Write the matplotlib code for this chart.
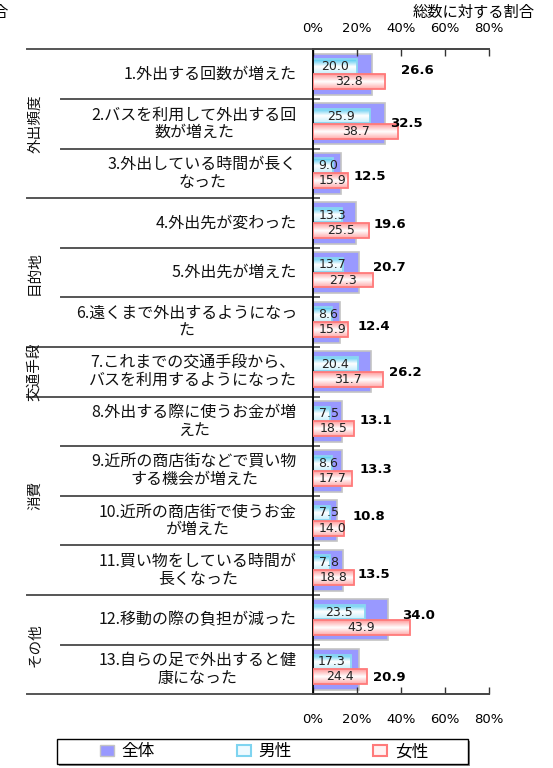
import numpy as np
import matplotlib
matplotlib.use("Agg")
import matplotlib.pyplot as plt
from matplotlib.patches import Patch, Rectangle
from matplotlib.lines import Line2D
from matplotlib.colors import LinearSegmentedColormap
from matplotlib.transforms import blended_transform_factory

plt.rcParams['font.family'] = ['Noto Sans CJK JP', 'DejaVu Sans']

# ---------------- data ----------------
categories = [
    "1.外出する回数が増えた",
    "2.バスを利用して外出する回\n数が増えた",
    "3.外出している時間が長く\nなった",
    "4.外出先が変わった",
    "5.外出先が増えた",
    "6.遠くまで外出するようになっ\nた",
    "7.これまでの交通手段から、\nバスを利用するようになった",
    "8.外出する際に使うお金が増\nえた",
    "9.近所の商店街などで買い物\nする機会が増えた",
    "10.近所の商店街で使うお金\nが増えた",
    "11.買い物をしている時間が\n長くなった",
    "12.移動の際の負担が減った",
    "13.自らの足で外出すると健\n康になった",
]
groups = ["外出頻度", "目的地", "交通手段", "消費", "その他"]
group_sizes = [3, 3, 1, 4, 2]
total = [26.6, 32.5, 12.5, 19.6, 20.7, 12.4, 26.2, 13.1, 13.3, 10.8, 13.5, 34.0, 20.9]
male = [20.0, 25.9, 9.0, 13.3, 13.7, 8.6, 20.4, 7.5, 8.6, 7.5, 7.8, 23.5, 17.3]
female = [32.8, 38.7, 15.9, 25.5, 27.3, 15.9, 31.7, 18.5, 17.7, 14.0, 18.8, 43.9, 24.4]
series_names = ["全体", "男性", "女性"]
xticks = [0, 20, 40, 60, 80]
xtick_labels = ["0%", "20%", "40%", "60%", "80%"]
axis_title = "総数に対する割合"

# label nudges for the "total" labels (pixels)
total_label_gap = [29.5, 5.5, 13.5, 17.2, 14.2, 17, 18.4, 18.2, 17.7, 15.5, 14.6, 13.9, 14.3]
total_label_dy = [-4, 0, 3.4, 1.4, -5, 4, 1, -0.6, -1.6, -3.8, 3.9, -4.7, 8]

# ---------------- layout ----------------
W, H = 553, 768
fig = plt.figure(figsize=(W / 100, H / 100), dpi=100)


def fx(px):
    return px / W


def fy(py):
    return 1 - py / H


AX_L, AX_R, AX_T, AX_B = 313, 489, 49.3, 694.3
ax = fig.add_axes([fx(AX_L), fy(AX_B), fx(AX_R) - fx(AX_L), fy(AX_T) - fy(AX_B)])
n = len(categories)
rows = np.arange(n)
px_per_unit = (AX_R - AX_L) / 80.0

num_font = dict(family='DejaVu Sans')

# total bars
ax.barh(rows + 0.5, total, height=0.83, color='#9999ff', edgecolor='#c4c4c4',
        linewidth=1.2, zorder=1)


def gradient_bars(vals, centers, height, cmap, edge, z):
    bars = ax.barh(centers, vals, height=height, facecolor='none', edgecolor=edge,
                   linewidth=1.3, zorder=z + 0.5)
    grad = np.linspace(0, 1, 64).reshape(-1, 1)
    for b in bars:
        x0, y0 = b.get_x(), b.get_y()
        w, h = b.get_width(), b.get_height()
        im = ax.imshow(grad, extent=[x0, x0 + w, y0 + h, y0], aspect='auto',
                       cmap=cmap, zorder=z, interpolation='bilinear')
        im.set_clip_path(b)
    return bars


male_cmap = LinearSegmentedColormap.from_list(
    'm', [(0, '#49c6f0'), (0.5, '#ffffff'), (1, '#c6effc')])
female_cmap = LinearSegmentedColormap.from_list(
    'f', [(0, '#ff9a9a'), (0.5, '#ffffff'), (1, '#ffaaaa')])

male_c = rows + 0.345
female_c = rows + 0.65
gradient_bars(male, male_c, 0.29, male_cmap, '#8ad6f2', 2)
gradient_bars(female, female_c, 0.30, female_cmap, '#ff7a7a', 3)


def inner_labels(vals, centers):
    for v, c in zip(vals, centers):
        s = f"{v:.1f}"
        wpx = (len(s) - 1) * 7.95 + 4.0
        if v * px_per_unit < wpx + 10:
            ax.annotate(s, xy=(0, c), xytext=(5.5, 0), textcoords='offset pixels',
                        ha='left', va='center', fontsize=9, color='#222222',
                        zorder=6, **num_font)
        else:
            ax.text(v / 2, c, s, ha='center', va='center', fontsize=9,
                    color='#222222', zorder=6, **num_font)


inner_labels(male, male_c)
inner_labels(female, female_c)

for r, v in enumerate(total):
    ax.annotate(f"{v:.1f}", xy=(v, r + 0.5),
                xytext=(total_label_gap[r], -total_label_dy[r]),
                textcoords='offset pixels', ha='left', va='center',
                fontsize=9.5, fontweight='bold', color='black', zorder=7,
                **num_font)

ax.set_xlim(0, 80)
ax.set_ylim(n, 0)

# spines / ticks
for s in ['top', 'bottom']:
    ax.spines[s].set_color('#444444')
    ax.spines[s].set_linewidth(1.4)
ax.spines['left'].set_color('black')
ax.spines['left'].set_linewidth(1.3)
ax.spines['right'].set_visible(False)

ax.set_xticks(xticks)
ax.set_xticklabels(xtick_labels, fontsize=9.5, **num_font)
ax.tick_params(axis='x', bottom=True, top=True, direction='in', length=5,
               width=1, color='#333333', pad=13.5)
sec = ax.secondary_xaxis('top')
sec.set_xticks(xticks)
sec.set_xticklabels(xtick_labels, fontsize=9.5, **num_font)
sec.tick_params(length=0, pad=10.5)
sec.spines['top'].set_visible(False)

ax.set_yticks(range(n + 1))
ax.set_yticklabels([])
ax.tick_params(axis='y', left=True, direction='in', length=5, width=1.3,
               color='#555555')

# left-side separators, category labels, group labels
trans = blended_transform_factory(fig.transFigure, ax.transData)
group_bounds = list(np.cumsum([0] + group_sizes))
for b in range(n + 1):
    x0 = 27 if b in group_bounds else 61
    ax.add_line(Line2D([fx(x0), fx(AX_L)], [b, b], transform=trans,
                       color='#555555', lw=1.4, clip_on=False))

for r, label in enumerate(categories):
    ax.text(fx(297), r + 0.5, label, transform=trans, ha='right', va='center',
            multialignment='center', fontsize=11.5, linespacing=1.05,
            color='#111111')

for g, name in enumerate(groups):
    c = (group_bounds[g] + group_bounds[g + 1]) / 2
    ax.text(fx(35), c, name, transform=trans, rotation=90, ha='center',
            va='center', fontsize=10.5, color='#111111')

# titles
fig.text(fx(535), fy(12), axis_title, ha='right', va='center', fontsize=11)
fig.text(fx(-8), fy(12), "合", ha='left', va='center', fontsize=11)

# legend box
fig.add_artist(Rectangle((fx(59.3), fy(766.3)), fx(410.4), 25.3 / H,
                         transform=fig.transFigure, facecolor='#888888',
                         edgecolor='none', zorder=1))
fig.add_artist(Rectangle((fx(57.3), fy(764.3)), fx(410.4), 25.3 / H,
                         transform=fig.transFigure, facecolor='white',
                         edgecolor='black', lw=1.0, zorder=2))
handles = [
    Patch(facecolor='#9999ff', edgecolor='#c4c4c4'),
    Patch(facecolor='#eefaff', edgecolor='#7fd4f0', lw=1.5),
    Patch(facecolor='#fff2f2', edgecolor='#ff7a7a', lw=1.5),
]
leg = fig.legend(handles, series_names, loc='center',
                 bbox_to_anchor=(fx(264), fy(751.7)), ncol=3, frameon=False,
                 fontsize=12, handlelength=0.85, handleheight=0.7,
                 handletextpad=0.45, columnspacing=4.9, borderaxespad=0,
                 borderpad=0)
leg.set_zorder(3)

fig.savefig("out.png", dpi=100)
